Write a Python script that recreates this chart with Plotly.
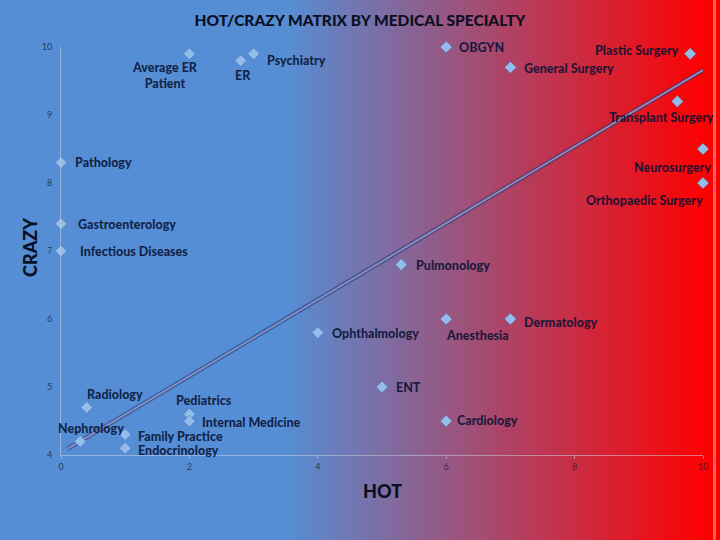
import numpy as np
import plotly.graph_objects as go

# ---- data ----
specialties = ["Average ER<br>Patient", "ER", "Psychiatry", "OBGYN", "General Surgery",
               "Plastic Surgery", "Transplant Surgery", "Neurosurgery", "Orthopaedic Surgery",
               "Pathology", "Gastroenterology", "Infectious Diseases", "Pulmonology",
               "Ophthalmology", "Anesthesia", "Dermatology", "ENT", "Cardiology",
               "Radiology", "Pediatrics", "Internal Medicine", "Nephrology",
               "Family Practice", "Endocrinology"]
hot = [2, 2.8, 3, 6, 7, 9.8, 9.6, 10, 10, 0, 0, 0, 5.3, 4, 6, 7, 5, 6, 0.4, 2, 2, 0.3, 1, 1]
crazy = [9.9, 9.8, 9.9, 10, 9.7, 9.9, 9.2, 8.5, 8.0, 8.3, 7.4, 7.0, 6.8, 5.8, 6.0, 6.0,
         5.0, 4.5, 4.7, 4.6, 4.5, 4.2, 4.3, 4.1]

# trend line as drawn on the slide
trend_hot = [0.1, 10]
trend_crazy = [4.09, 9.66]

x_ticks = [0, 2, 4, 6, 8, 10]
y_ticks = [4, 5, 6, 7, 8, 9, 10]

# ---- label placement: (xanchor, yanchor, xshift, yshift) ----
label_style = {
    "Average ER<br>Patient": ("center", "top", -24, -4),
    "ER": ("center", "top", 2, -5),
    "Psychiatry": ("left", "middle", 11, -7),
    "OBGYN": ("left", "middle", 11, 0),
    "General Surgery": ("left", "middle", 12, -1),
    "Plastic Surgery": ("right", "middle", -9, 3),
    "Transplant Surgery": ("center", "middle", -16, -16),
    "Neurosurgery": ("right", "middle", 10, -18),
    "Orthopaedic Surgery": ("right", "middle", 2, -17),
    "Pathology": ("left", "middle", 12, 0),
    "Gastroenterology": ("left", "middle", 15, -1),
    "Infectious Diseases": ("left", "middle", 17, 0),
    "Pulmonology": ("left", "middle", 13, -1),
    "Ophthalmology": ("left", "middle", 12, -1),
    "Anesthesia": ("left", "middle", -2, -16),
    "Dermatology": ("left", "middle", 12, -3),
    "ENT": ("left", "middle", 12, 0),
    "Cardiology": ("left", "middle", 9, 1),
    "Radiology": ("left", "middle", -2, 13),
    "Pediatrics": ("left", "middle", -15, 14),
    "Internal Medicine": ("left", "middle", 11, -1),
    "Nephrology": ("left", "middle", -24, 13),
    "Family Practice": ("left", "middle", 11, -2),
    "Endocrinology": ("left", "middle", 11, -2),
}

W, H = 720, 540
ML, MR, MT, MB = 61, 17, 47, 85
PW = W - ML - MR

# background: flat blue then a linear blend to red
blue = np.array([85, 142, 213])
red = np.array([255, 0, 0])
g0, g1 = 283, 706
shapes = []
for px in range(g0, g1, 3):
    t = (px - g0) / (g1 - g0)
    r, g, b = (blue + (red - blue) * t).round().astype(int)
    shapes.append(dict(type="rect", xref="paper", yref="paper", layer="below",
                       x0=(px - ML) / PW, x1=(px + 3.5 - ML) / PW, y0=-0.3, y1=1.3,
                       fillcolor=f"rgb({r},{g},{b})", line_width=0))
shapes.append(dict(type="rect", xref="paper", yref="paper", layer="below",
                   x0=(g1 - ML) / PW, x1=(W + 5 - ML) / PW, y0=-0.3, y1=1.3,
                   fillcolor="rgb(255,0,0)", line_width=0))
# thin pale stripe near the slide's right edge
shapes.append(dict(type="rect", xref="paper", yref="paper", layer="below",
                   x0=(713 - ML) / PW, x1=(716 - ML) / PW, y0=-0.3, y1=1.3,
                   fillcolor="rgb(255,95,95)", line_width=0))

fig = go.Figure()

# trend line (shadow + core)
fig.add_trace(go.Scatter(x=trend_hot, y=trend_crazy, mode="lines", hoverinfo="skip",
                         line=dict(color="rgba(35,55,115,0.55)", width=4.5), cliponaxis=False))
fig.add_trace(go.Scatter(x=trend_hot, y=trend_crazy, mode="lines", hoverinfo="skip",
                         line=dict(color="rgba(140,145,200,0.95)", width=1.8), cliponaxis=False))

fig.add_trace(go.Scatter(
    x=hot, y=crazy, mode="markers", text=specialties, cliponaxis=False,
    marker=dict(symbol="diamond", size=9, color="#95bdec",
                line=dict(color="rgba(60,100,170,0.6)", width=0.6)),
    hovertemplate="%{text}<br>HOT %{x}<br>CRAZY %{y}<extra></extra>",
))

annotations = []
for name, xv, yv in zip(specialties, hot, crazy):
    xa, ya, dx, dy = label_style[name]
    annotations.append(dict(x=xv, y=yv, xref="x", yref="y", text=name,
                            showarrow=False, xanchor=xa, yanchor=ya, xshift=dx, yshift=dy,
                            font=dict(family="Lato", size=12.5, weight=900,
                                      color="rgba(8,18,52,0.88)")))

annotations.append(dict(text="HOT", xref="paper", yref="paper", x=0.5, y=-0.088,
                        xanchor="center", yanchor="middle", showarrow=False,
                        font=dict(family="Lato", size=18, weight=900, color="#0b0f22")))
annotations.append(dict(text="CRAZY", xref="paper", yref="paper", x=-31 / PW, y=0.51,
                        xanchor="center", yanchor="middle", showarrow=False, textangle=-90,
                        font=dict(family="Lato", size=18, weight=900, color="#0b0f22")))

fig.update_layout(
    width=W, height=H,
    margin=dict(l=ML, r=MR, t=MT, b=MB),
    paper_bgcolor="rgb(85,142,213)",
    plot_bgcolor="rgba(0,0,0,0)",
    showlegend=False,
    shapes=shapes,
    annotations=annotations,
    title=dict(text="HOT/CRAZY MATRIX BY MEDICAL SPECIALTY", x=0.5, xanchor="center",
               y=1 - 21 / H, yanchor="middle",
               font=dict(family="Lato", size=15.5, weight=900, color="#0b0f22")),
    xaxis=dict(range=[0, 10], tickvals=x_ticks, showgrid=False, zeroline=False,
               showline=True, linecolor="rgba(200,205,220,0.55)", linewidth=1,
               ticks="outside", ticklen=3, tickcolor="rgba(200,205,220,0.55)",
               tickfont=dict(family="Lato", size=9, color="rgba(20,30,60,0.8)")),
    yaxis=dict(range=[4, 10], tickvals=y_ticks, showgrid=False, zeroline=False,
               showline=True, linecolor="rgba(200,205,220,0.55)", linewidth=1,
               ticks="", ticklabelstandoff=6,
               tickfont=dict(family="Lato", size=9, color="rgba(20,30,60,0.8)")),
)

# page margin off so the 720x540 figure fills the window
fig.write_html("out.html", config={"displayModeBar": False},
               post_script="document.body.style.margin='0';document.body.style.overflow='hidden';")
